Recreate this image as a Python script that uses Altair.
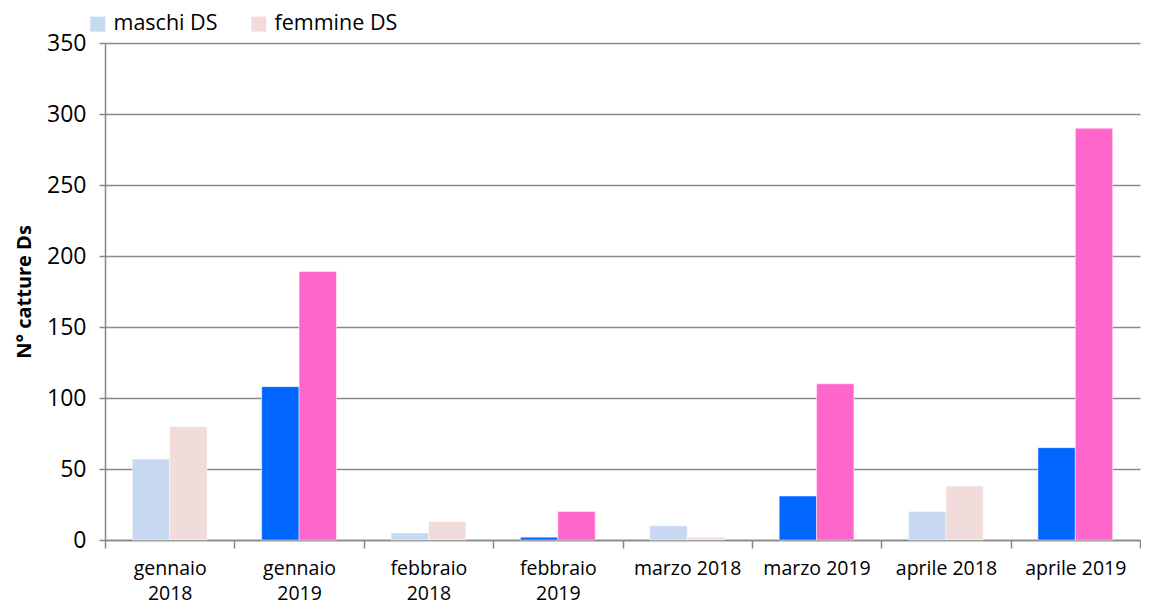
import altair as alt
import pandas as pd

categories = ["gennaio 2018", "gennaio 2019", "febbraio 2018", "febbraio 2019",
              "marzo 2018", "marzo 2019", "aprile 2018", "aprile 2019"]
maschi = [57, 108, 5, 2, 10, 31, 20, 65]
femmine = [80, 189, 13, 20, 2, 110, 38, 290]
series = ["maschi DS", "femmine DS"]
color_domain = ["maschi DS", "femmine DS", "maschi DS 2019", "femmine DS 2019"]
color_range = ["#C6D9F1", "#F2DCDB", "#0066FF", "#FF66CC"]

rows = []
for c, m, f in zip(categories, maschi, femmine):
    suffix = " 2019" if c.endswith("2019") else ""
    rows.append({"cat": c, "serie": "maschi DS", "val": m, "colore": "maschi DS" + suffix})
    rows.append({"cat": c, "serie": "femmine DS", "val": f, "colore": "femmine DS" + suffix})
df = pd.DataFrame(rows)

FONT = "Open Sans"

chart = alt.Chart(df).mark_bar(stroke="white", strokeWidth=0.5).encode(
    x=alt.X("cat:N", sort=categories, title=None,
            scale=alt.Scale(paddingInner=0, paddingOuter=0),
            axis=alt.Axis(labelAngle=0, labelFontSize=19.5, labelFont=FONT, labelColor="black",
                          labelPadding=11, labelLineHeight=25, labelBaseline="top",
                          labelOverlap=False, labelBound=False,
                          domainColor="#868686", domainWidth=1.5,
                          tickColor="#868686", tickWidth=1.5, tickSize=8,
                          tickBand="extent", bandPosition=0,
                          labelExpr="indexof(datum.label,'gennaio')>=0 || indexof(datum.label,'febbraio')>=0 ? split(datum.label,' ') : datum.label")),
    xOffset=alt.XOffset("serie:N", sort=series, scale=alt.Scale(paddingInner=0, paddingOuter=0.73)),
    y=alt.Y("val:Q", title="N° catture Ds",
            scale=alt.Scale(domain=[0, 350]),
            axis=alt.Axis(values=[0, 50, 100, 150, 200, 250, 300, 350],
                          labelFontSize=23, labelFont=FONT, labelColor="black", labelPadding=13,
                          titleFont=FONT, titleFontSize=20, titleFontWeight="bold", titleColor="black",
                          titlePadding=12,
                          domainColor="#868686", domainWidth=1.5,
                          tickColor="#868686", tickWidth=1.5, tickSize=6,
                          grid=True, gridColor="#8a8a8a", gridWidth=1.5)),
    color=alt.Color("colore:N", scale=alt.Scale(domain=color_domain, range=color_range),
                    legend=alt.Legend(values=series, title=None, orient="none",
                                      direction="horizontal", legendX=-18, legendY=-30,
                                      symbolType="square", symbolSize=225, symbolStrokeWidth=0,
                                      labelFont=FONT, labelFontSize=21.5, labelColor="black",
                                      columnPadding=30, labelOffset=5)),
).properties(
    width=1035, height=497,
    autosize=alt.AutoSizeParams(type="none"),
    padding={"left": 97, "top": 35, "right": 1, "bottom": 68},
).configure_view(stroke=None)

chart.save("out.html", embed_options={"renderer": "svg", "actions": False})
